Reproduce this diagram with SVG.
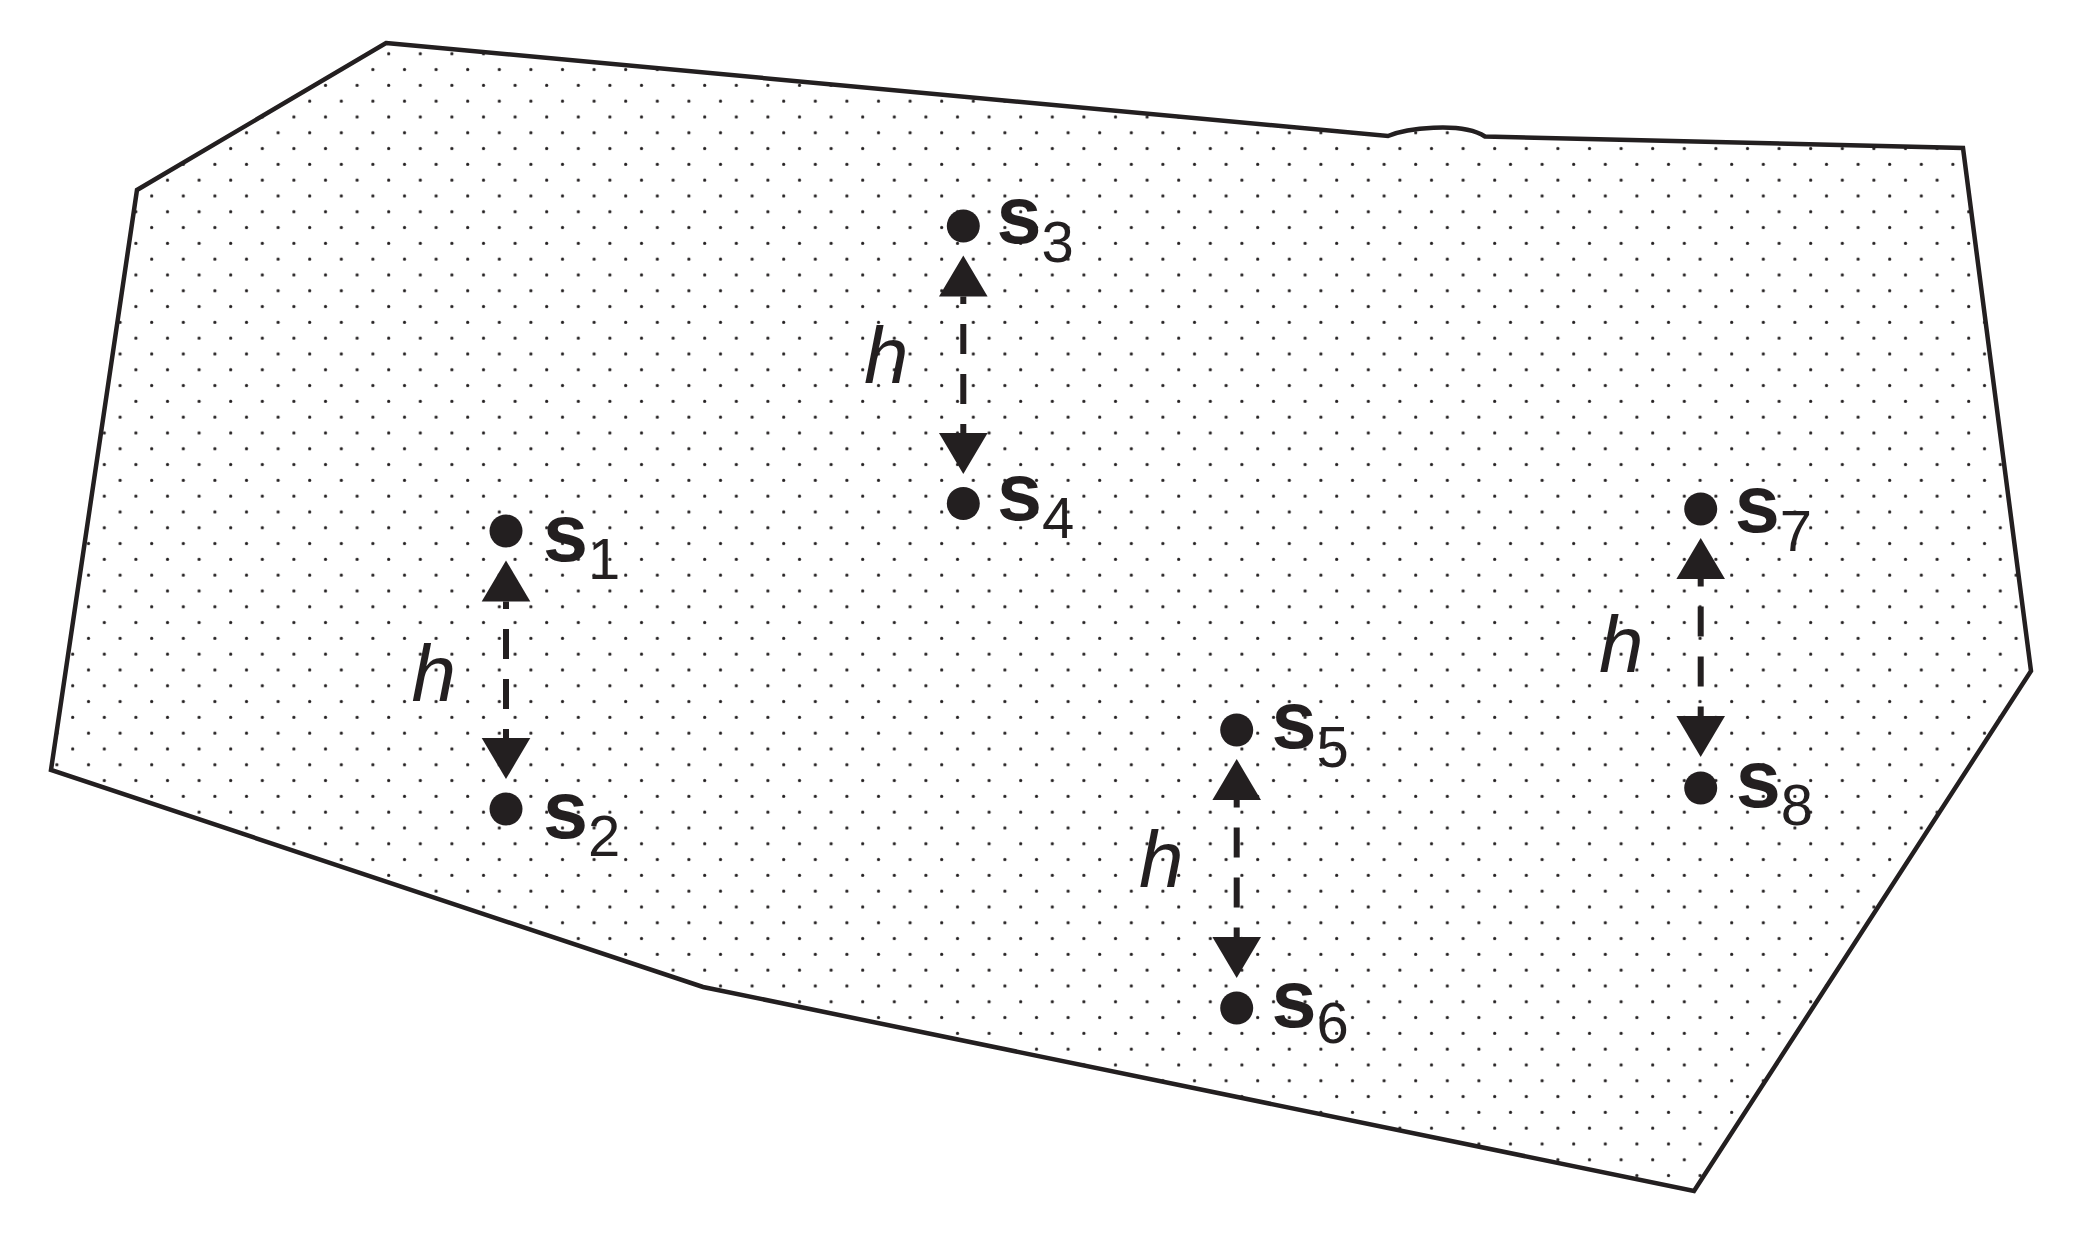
<svg xmlns="http://www.w3.org/2000/svg" width="2092" height="1240" viewBox="0 0 2092 1240">
<style>
.outline{fill:url(#dots);stroke:#231f20;stroke-width:4.5;stroke-linejoin:miter}
.pt{fill:#231f20}
.conn{stroke:#231f20;stroke-width:6;fill:none;stroke-dasharray:30 20;stroke-dashoffset:22.4;marker-start:url(#aStart);marker-end:url(#aEnd)}
.lbl{font-family:"Liberation Sans",Arial,Helvetica,sans-serif;fill:#231f20}
.b{font-weight:bold;font-size:81px}
.sub{font-size:58px;font-weight:normal}
.h{font-family:"Liberation Sans",Arial,Helvetica,sans-serif;font-style:italic;font-size:80px;fill:#231f20}
</style>
<defs>
<pattern id="dots" patternUnits="userSpaceOnUse" x="0" y="0" width="31.6" height="31.6">
<circle cx="25.3" cy="6.4" r="1.6" fill="#231f20"/>
<circle cx="9.5" cy="22.2" r="1.6" fill="#231f20"/>
</pattern>
<marker id="aEnd" markerUnits="userSpaceOnUse" markerWidth="41" markerHeight="48.6" refX="0" refY="24.3" orient="auto" overflow="visible">
<path d="M0,0 L41,24.3 L0,48.6 Z" fill="#231f20"/>
</marker>
<marker id="aStart" markerUnits="userSpaceOnUse" markerWidth="41" markerHeight="48.6" refX="41" refY="24.3" orient="auto" overflow="visible">
<path d="M41,0 L0,24.3 L41,48.6 Z" fill="#231f20"/>
</marker>
</defs>
<g id="region">
<path class="outline" d="M386,43 L1388,136 C1405,129 1460,121 1485,136.5 L1963,148 L2031,671 L1694,1191 L703,987 L51,770 L137,190 Z"/>
</g>
<g id="connectors">
<line class="conn" x1="506" y1="601.5" x2="506" y2="738"/>
<line class="conn" x1="963.3" y1="296.5" x2="963.3" y2="433"/>
<line class="conn" x1="1236.7" y1="800" x2="1236.7" y2="937"/>
<line class="conn" x1="1700.7" y1="579" x2="1700.7" y2="716"/>
</g>
<g id="h-labels">
<text class="h" x="411.5" y="701">h</text>
<text class="h" x="864" y="383.3">h</text>
<text class="h" x="1139" y="886.7">h</text>
<text class="h" x="1599" y="671.7">h</text>
</g>
<g id="s1"><circle class="pt" cx="506" cy="531" r="16.5"/><text class="lbl" x="543" y="560.5"><tspan class="b">s</tspan><tspan class="sub" dy="18.5">1</tspan></text></g>
<g id="s2"><circle class="pt" cx="506" cy="809" r="16.5"/><text class="lbl" x="543" y="838.3"><tspan class="b">s</tspan><tspan class="sub" dy="17.5">2</tspan></text></g>
<g id="s3"><circle class="pt" cx="963.3" cy="226" r="16.5"/><text class="lbl" x="996.5" y="243.3"><tspan class="b">s</tspan><tspan class="sub" dy="19">3</tspan></text></g>
<g id="s4"><circle class="pt" cx="963.3" cy="503.5" r="16.5"/><text class="lbl" x="997" y="520"><tspan class="b">s</tspan><tspan class="sub" dy="18.3">4</tspan></text></g>
<g id="s5"><circle class="pt" cx="1236.7" cy="730" r="16.5"/><text class="lbl" x="1271.5" y="748.3"><tspan class="b">s</tspan><tspan class="sub" dy="19">5</tspan></text></g>
<g id="s6"><circle class="pt" cx="1236.7" cy="1008" r="16.5"/><text class="lbl" x="1271.5" y="1026.7"><tspan class="b">s</tspan><tspan class="sub" dy="16.6">6</tspan></text></g>
<g id="s7"><circle class="pt" cx="1700.7" cy="509" r="16.5"/><text class="lbl" x="1734.8" y="531.7"><tspan class="b">s</tspan><tspan class="sub" dy="19">7</tspan></text></g>
<g id="s8"><circle class="pt" cx="1700.7" cy="788" r="16.5"/><text class="lbl" x="1735.7" y="806.7"><tspan class="b">s</tspan><tspan class="sub" dy="18.3">8</tspan></text></g>
</svg>
